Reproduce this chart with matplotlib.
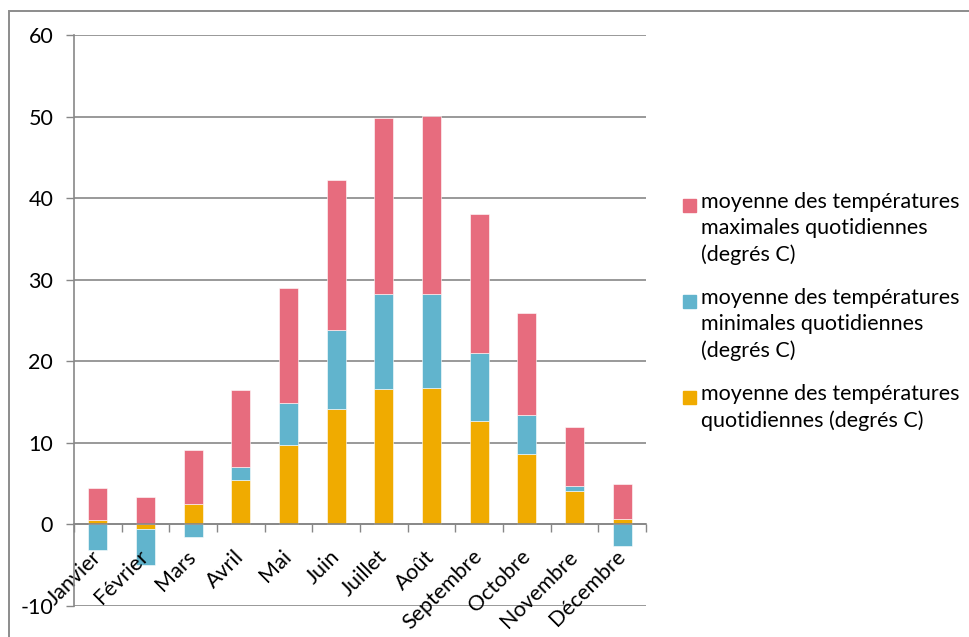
import numpy as np
import matplotlib
matplotlib.use("Agg")
import matplotlib.pyplot as plt
from matplotlib.patches import Rectangle

plt.rcParams["font.family"] = ["Lato", "DejaVu Sans"]
plt.rcParams["axes.unicode_minus"] = False

mois = ["Janvier", "Février", "Mars", "Avril", "Mai", "Juin", "Juillet", "Août",
        "Septembre", "Octobre", "Novembre", "Décembre"]
t_moy = [0.5, -0.5, 2.5, 5.5, 9.7, 14.2, 16.6, 16.7, 12.7, 8.6, 4.1, 0.7]
t_min = [-3.1, -4.5, -1.6, 1.5, 5.2, 9.6, 11.6, 11.5, 8.3, 4.8, 0.6, -2.6]
t_max = [4.0, 3.4, 6.6, 9.5, 14.1, 18.4, 21.6, 21.9, 17.1, 12.5, 7.3, 4.2]

labels = ["moyenne des températures\nmaximales quotidiennes\n(degrés C)",
          "moyenne des températures\nminimales quotidiennes\n(degrés C)",
          "moyenne des températures\nquotidiennes (degrés C)"]
c_max, c_min, c_moy = "#E76C7E", "#61B4CD", "#F0AB00"
grid_c = "#878787"

W, H = 970, 637
fig = plt.figure(figsize=(W / 100, H / 100), dpi=100)
px = lambda x, y: (x / W, 1 - y / H)

# outer chart frame (runs off the right and bottom edges)
top = 1 - 11 / H
fig.patches.append(Rectangle((9 / W, -0.5), 2, top + 0.5, transform=fig.transFigure,
                             fill=False, edgecolor="#8c8c8c", lw=1.4))

ax = fig.add_axes([74 / W, 1 - 606 / H, 572 / W, 571 / H])
x = np.arange(len(mois))
yt = list(range(-10, 61, 10))

# horizontal gridlines under the bars, month labels stay on top
for v in yt:
    ax.axhline(v, color=grid_c, lw=1.2, zorder=0)

# Excel-style stacking: positives pile up from 0, negatives pile down from 0
pos = np.zeros(len(mois))
neg = np.zeros(len(mois))
for vals, col in [(t_moy, c_moy), (t_min, c_min), (t_max, c_max)]:
    v = np.array(vals)
    bottom = np.where(v >= 0, pos, neg)
    ax.bar(x, v, 0.4, bottom=bottom, color=col, edgecolor="white", linewidth=0.4, zorder=1)
    pos = pos + np.where(v >= 0, v, 0)
    neg = neg + np.where(v < 0, v, 0)

ax.set_xlim(-0.5, len(mois) - 0.5)
ax.set_ylim(-10, 60)
ax.set_yticks(yt)
ax.tick_params(axis="y", length=6, width=1, color=grid_c, pad=9, labelsize=15.5)

for s in ["top", "right"]:
    ax.spines[s].set_visible(False)
ax.spines["left"].set_color(grid_c)
ax.spines["left"].set_linewidth(1.2)
ax.spines["bottom"].set_position(("data", 0))
ax.spines["bottom"].set_color(grid_c)
ax.spines["bottom"].set_linewidth(1.2)

ax.set_xticks(x)
ax.set_xticklabels(mois, rotation=45, ha="right", va="center", rotation_mode="anchor",
                   fontsize=15.5)
ax.tick_params(axis="x", which="major", length=0, pad=21)
ax.set_xticks(np.arange(-0.5, len(mois), 1), minor=True)
ax.tick_params(axis="x", which="minor", length=6, width=1, color=grid_c, direction="out")

# legend drawn by hand
for i, (lab, col) in enumerate(zip(labels, [c_max, c_min, c_moy])):
    y0 = 205 + 96 * i
    fig.patches.append(Rectangle(px(683, y0 + 6.5), 13 / W, 13 / H,
                                 transform=fig.transFigure, color=col))
    fig.text(*px(701, y0 - 13), lab, fontsize=15.5, va="top", ha="left",
             linespacing=1.38)

fig.savefig("out.png", dpi=100)
